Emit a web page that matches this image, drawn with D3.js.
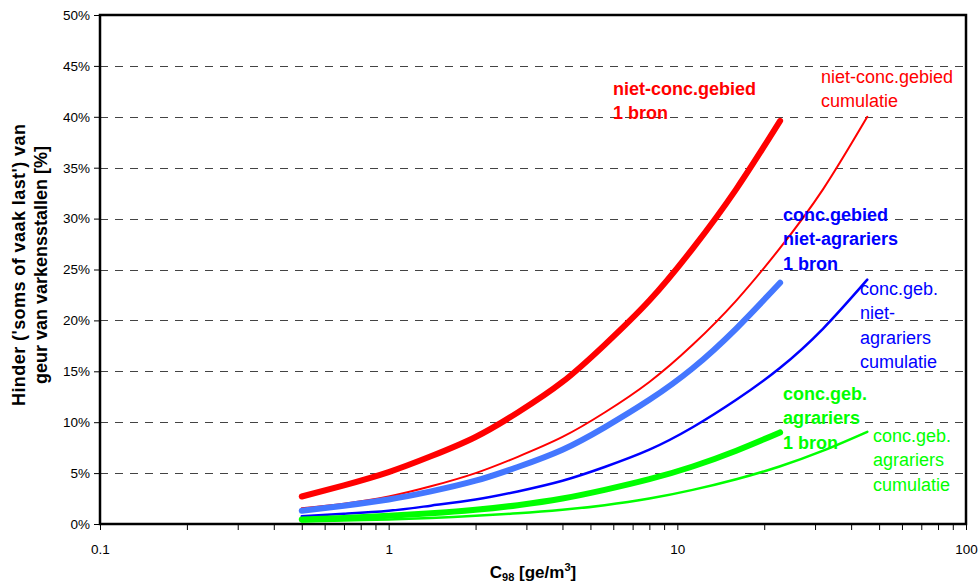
<!DOCTYPE html>
<html>
<head>
<meta charset="utf-8">
<script src="https://cdn.jsdelivr.net/npm/d3@7"></script>
<style>
  html, body { margin: 0; padding: 0; background: #fff; }
  svg { display: block; font-family: Arial, "Liberation Sans", sans-serif; }
</style>
</head>
<body>
<svg id="chart" width="979" height="584"></svg>
<script>
// Hinder (%) as a function of C98 odour concentration [ge/m3], per area type
const nietConc1Bron     = [[0.5,2.7],[0.7,3.8],[1,5.1],[1.4,6.65],[2,8.55],[2.8,10.95],[4,13.95],[5.6,17.6],[8,21.95],[11.3,27.05],[16,32.9],[22.7,39.6]];
const nietConcCumulatie = [[0.5,1.55],[0.7,2.0],[1,2.7],[1.4,3.7],[2,5.0],[2.8,6.6],[4,8.55],[5.6,10.95],[8,13.95],[11.3,17.6],[16,21.95],[22.6,27.05],[32,32.9],[45.5,40.0]];
const concNietAgr1Bron  = [[0.5,1.3],[0.7,1.8],[1,2.4],[1.4,3.2],[2,4.25],[2.8,5.6],[4,7.3],[5.6,9.5],[8,12.2],[11.3,15.3],[16,19.2],[22.7,23.7]];
const concNietAgrCum    = [[0.5,0.75],[0.7,1.0],[1,1.3],[1.4,1.8],[2,2.4],[2.8,3.2],[4,4.25],[5.6,5.6],[8,7.3],[11.3,9.5],[16,12.2],[22.6,15.3],[32,19.2],[45.5,24.0]];
const concAgr1Bron      = [[0.5,0.45],[0.7,0.6],[1,0.8],[1.4,1.05],[2,1.4],[2.8,1.85],[4,2.5],[5.6,3.35],[8,4.4],[11.3,5.65],[16,7.2],[22.7,9.0]];
const concAgrCum        = [[0.5,0.25],[0.7,0.35],[1,0.45],[1.4,0.6],[2,0.8],[2.8,1.05],[4,1.4],[5.6,1.85],[8,2.5],[11.3,3.35],[16,4.4],[22.6,5.65],[32,7.2],[45.5,9.05]];

const yTicks = [0,5,10,15,20,25,30,35,40,45,50];
const xMajorTicks = [0.1,1,10,100];
const xMinorTicks = [0.2,0.3,0.4,0.5,0.6,0.7,0.8,0.9,2,3,4,5,6,7,8,9,20,30,40,50,60,70,80,90];

const series = [
  { data: nietConcCumulatie, color: "#ff0000", width: 2 },
  { data: nietConc1Bron,     color: "#ff0000", width: 6 },
  { data: concNietAgrCum,    color: "#0000ff", width: 2.5 },
  { data: concNietAgr1Bron,  color: "#4477ff", width: 6 },
  { data: concAgrCum,        color: "#00ff00", width: 2.5 },
  { data: concAgr1Bron,      color: "#00ff00", width: 6 }
];

const labels = [
  { lines: ["niet-conc.gebied", "1 bron"], x: 613, y: 95, color: "#ff0000", bold: true },
  { lines: ["niet-conc.gebied", "cumulatie"], x: 821, y: 83, color: "#ff0000", bold: false },
  { lines: ["conc.gebied", "niet-agrariers", "1 bron"], x: 783, y: 221, color: "#0000ff", bold: true },
  { lines: ["conc.geb.", "niet-", "agrariers", "cumulatie"], x: 860, y: 295, color: "#0000ff", bold: false },
  { lines: ["conc.geb.", "agrariers", "1 bron"], x: 783, y: 400, color: "#00ff00", bold: true },
  { lines: ["conc.geb.", "agrariers", "cumulatie"], x: 873, y: 442, color: "#00ff00", bold: false }
];

const svg = d3.select("#chart");
const plotLeft = 100, plotRight = 966, plotTop = 15, plotBottom = 524;

const x = d3.scaleLog().domain([0.1, 100]).range([plotLeft, plotRight]);
const y = d3.scaleLinear().domain([0, 50]).range([plotBottom, plotTop]);

// dashed horizontal gridlines
svg.append("g")
  .selectAll("line")
  .data(yTicks.filter(t => t > 0 && t < 50))
  .join("line")
  .attr("x1", plotLeft).attr("x2", plotRight)
  .attr("y1", d => Math.round(y(d)) + 0.5).attr("y2", d => Math.round(y(d)) + 0.5)
  .attr("stroke", "#444").attr("stroke-width", 1)
  .attr("stroke-dasharray", "8,7");

// y axis
const yAxis = d3.axisLeft(y).tickValues(yTicks).tickFormat(d => d + "%").tickSize(6).tickPadding(4);
const gy = svg.append("g").attr("transform", `translate(${plotLeft},0)`).call(yAxis);
gy.select(".domain").remove();
gy.selectAll(".tick line").attr("stroke", "#000");
gy.selectAll(".tick text").attr("font-size", 13.5).attr("fill", "#000")
  .attr("font-family", "Arial, 'Liberation Sans', sans-serif");

// x axis: major ticks with labels, minor ticks without
const xAxis = d3.axisBottom(x).tickValues(xMajorTicks).tickFormat(d => String(d)).tickSize(6).tickPadding(14);
const gx = svg.append("g").attr("transform", `translate(0,${plotBottom})`).call(xAxis);
gx.select(".domain").remove();
gx.selectAll(".tick line").attr("stroke", "#000");
gx.selectAll(".tick text").attr("font-size", 13.5).attr("fill", "#000")
  .attr("font-family", "Arial, 'Liberation Sans', sans-serif");

const xMinor = d3.axisBottom(x).tickValues(xMinorTicks).tickFormat("").tickSize(6);
const gxm = svg.append("g").attr("transform", `translate(0,${plotBottom})`).call(xMinor);
gxm.select(".domain").remove();
gxm.selectAll(".tick line").attr("stroke", "#000");

// plot frame
svg.append("rect")
  .attr("x", plotLeft).attr("y", plotTop)
  .attr("width", plotRight - plotLeft).attr("height", plotBottom - plotTop)
  .attr("fill", "none").attr("stroke", "#000").attr("stroke-width", 2.5);

// curves
const line = d3.line()
  .x(d => x(d[0]))
  .y(d => y(d[1]))
  .curve(d3.curveNatural);

svg.append("g")
  .selectAll("path")
  .data(series)
  .join("path")
  .attr("d", d => line(d.data))
  .attr("fill", "none")
  .attr("stroke", d => d.color)
  .attr("stroke-width", d => d.width)
  .attr("stroke-linecap", "round")
  .attr("stroke-linejoin", "round");

// curve annotations
labels.forEach(l => {
  const t = svg.append("text")
    .attr("x", l.x).attr("y", l.y)
    .attr("fill", l.color)
    .attr("font-size", 18)
    .attr("font-weight", l.bold ? "bold" : "normal");
  l.lines.forEach((s, i) => {
    t.append("tspan").attr("x", l.x).attr("dy", i === 0 ? 0 : 24.3).text(s);
  });
});

// y axis title
const yt = svg.append("text")
  .attr("transform", "translate(25,265) rotate(-90)")
  .attr("text-anchor", "middle")
  .attr("font-weight", "bold")
  .attr("font-size", 18)
  .attr("fill", "#000");
yt.append("tspan").attr("x", 0).attr("dy", 0)
  .attr("textLength", 282).attr("lengthAdjust", "spacing")
  .text("Hinder ('soms of vaak last') van");
yt.append("tspan").attr("x", 0).attr("dy", 22).text("geur van varkensstallen [%]");

// x axis title
const xt = svg.append("text")
  .attr("x", 533).attr("y", 578)
  .attr("text-anchor", "middle")
  .attr("font-weight", "bold")
  .attr("font-size", 17)
  .attr("fill", "#000");
xt.append("tspan").text("C");
xt.append("tspan").attr("font-size", 11).attr("dy", 3).text("98");
xt.append("tspan").attr("dy", -3).text(" [ge/m");
xt.append("tspan").attr("font-size", 11).attr("dy", -7).text("3");
xt.append("tspan").attr("dy", 7).text("]");
</script>
</body>
</html>
